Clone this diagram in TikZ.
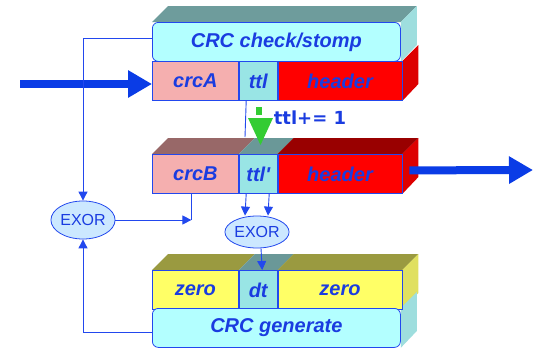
\documentclass[tikz,border=0pt]{standalone}
\usepackage{fontspec}
\setmainfont{Liberation Sans}
\newfontfamily\incfont{DejaVu Sans}
\usetikzlibrary{positioning,shapes.geometric,arrows.meta,backgrounds}
\definecolor{lineblue}{HTML}{2248EE}
\definecolor{txtblue}{HTML}{1A3CE0}
\definecolor{bigblue}{HTML}{0A3CE6}
\definecolor{cyanfront}{HTML}{B3FFFF}
\definecolor{cyantop}{HTML}{6E9C9C}
\definecolor{cyanside}{HTML}{9EDEDE}
\definecolor{pinkfront}{HTML}{F5AFAF}
\definecolor{pinktop}{HTML}{986868}
\definecolor{ttlfront}{HTML}{99E5E5}
\definecolor{ttltop}{HTML}{6A9898}
\definecolor{redfront}{HTML}{FF0000}
\definecolor{redtop}{HTML}{990000}
\definecolor{redside}{HTML}{DD0000}
\definecolor{yellowfront}{HTML}{FFFF66}
\definecolor{yellowtop}{HTML}{9A9A40}
\definecolor{yellowside}{HTML}{E0E060}
\definecolor{exorfill}{HTML}{CCE8FF}
\definecolor{incgreen}{HTML}{33CC33}
% faces of the 3d blocks
\newcommand{\topface}[2]{\fill[#2] (#1.north west) -- (#1.north east) -- ++(16,-16) -- ([shift={(16,-16)}]#1.north west) -- cycle;}
\newcommand{\sideface}[2]{\fill[#2] (#1.north east) -- ++(16,-16) -- ++(0,39) -- (#1.south east) -- cycle;}

\begin{document}
\begin{tikzpicture}[x=1pt,y=-1pt,
    cell/.style={draw=lineblue,line width=0.8pt,inner sep=0pt,minimum height=39pt,text=txtblue,font=\fontsize{20}{24}\selectfont\bfseries\itshape},
    crcbox/.style={cell,fill=cyanfront,rounded corners=6pt,minimum width=248pt},
    exor/.style={ellipse,draw=lineblue,line width=0.8pt,fill=exorfill,inner sep=0pt,text=txtblue,font=\fontsize{16}{18}\selectfont},
    link/.style={draw=lineblue,line width=0.9pt},
    arr/.style={link,-{Triangle[length=9pt,width=9pt]}},
    bigarr/.style={draw=bigblue,line width=8pt,-{Triangle[length=24pt,width=26pt]}}]
    \useasboundingbox (0,0) rectangle (533,348);
    % top block
    \node[crcbox,anchor=north west] (check) at (152,22) {CRC check/stomp};
    \node[cell,fill=pinkfront,minimum width=86pt,anchor=north west] (crcA) at (152,61) {crcA};
    \node[cell,fill=ttlfront,minimum width=38pt,right=0pt of crcA] (ttlA) {ttl};
    \node[cell,fill=redfront,minimum width=124pt,right=0pt of ttlA] (headA) {header};
    % middle block
    \node[cell,fill=pinkfront,minimum width=86pt,anchor=north west] (crcB) at (152,154) {crcB};
    \node[cell,fill=ttlfront,minimum width=38pt,right=0pt of crcB] (ttlB) {ttl\textquotesingle};
    \node[cell,fill=redfront,minimum width=124pt,right=0pt of ttlB] (headB) {header};
    % bottom block
    \node[cell,fill=yellowfront,minimum width=86pt,anchor=north west] (zeroL) at (152,270) {zero};
    \node[cell,fill=ttlfront,minimum width=38pt,right=0pt of zeroL] (dt) {dt};
    \node[cell,fill=yellowfront,minimum width=124pt,right=0pt of dt] (zeroR) {zero};
    \node[crcbox,anchor=north west] (gen) at (152,308) {CRC generate};
    \begin{scope}[on background layer]
        \topface{check}{cyantop}
        \sideface{check}{cyanside}
        \sideface{headA}{redside}
        \topface{crcB}{pinktop}
        \topface{ttlB}{ttltop}
        \topface{headB}{redtop}
        \sideface{headB}{redside}
        \topface{zeroL}{yellowtop}
        \topface{dt}{ttltop}
        \topface{zeroR}{yellowtop}
        \sideface{zeroR}{yellowside}
        \sideface{gen}{cyanside}
    \end{scope}
    \node[exor,minimum width=62pt,minimum height=38pt] (exorL) at (83,220) {EXOR};
    \node[exor,minimum width=54pt,minimum height=32pt] (exorR) at (257,232) {EXOR};
    % in and out
    \coordinate (in) at (20,84);
    \coordinate (out) at (533,170);
    \draw[bigarr] (in) -- (in -| crcA.west);
    \draw[bigarr] ([xshift=7pt,yshift=3.5pt]headB.east) -- (out);
    % ttl increment
    \coordinate (ttlfoot) at (245,137);
    \draw[link] ([xshift=-12pt]ttlA.south) -- (ttlfoot);
    \fill[incgreen] (256,107) rectangle (262,115);
    \fill[incgreen] (248,118) -- (273,118) -- (260.5,145) -- cycle;
    \node[text=txtblue,font=\incfont\bfseries\fontsize{18}{20}\selectfont] (inc) at (310,118) {ttl+= 1};
    % crc path
    \draw[arr] ([yshift=3.5pt]check.west) -| (exorL.north);
    \draw[arr] ([yshift=-4.5pt]gen.west) -| (exorL.south);
    \coordinate (tapB) at ([xshift=-4pt]crcB.south |- exorL.east);
    \draw[link] ([xshift=-4pt]crcB.south) -- (tapB);
    \draw[arr] (exorL.east) -- (tapB);
    \draw[arr] ([xshift=-12pt]ttlB.south) -- ([xshift=-12pt]exorR.north);
    \draw[arr] ([xshift=11pt]ttlB.south) -- ([xshift=11pt]exorR.north);
    \draw[arr] ([xshift=4pt]exorR.south) -- ([xshift=4pt]dt.north);
\end{tikzpicture}
\end{document}
